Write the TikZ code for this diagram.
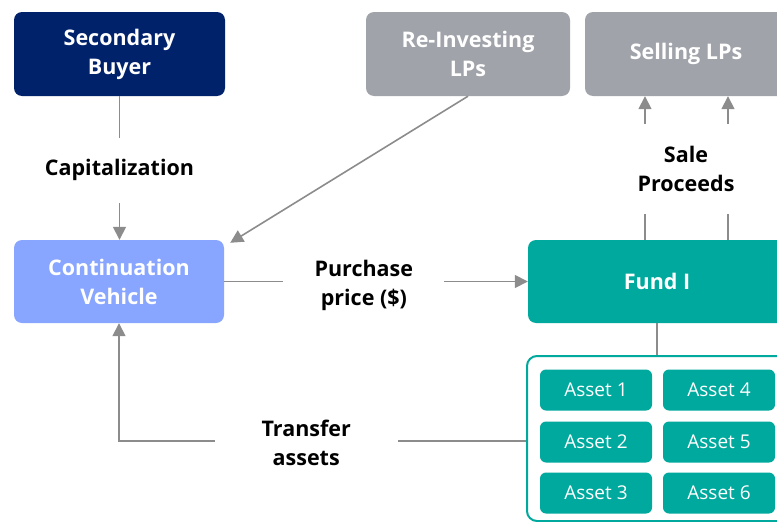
\documentclass[tikz,border=0pt]{standalone}
\usepackage{fontspec}
\setmainfont{Open Sans}
\usepackage{tikz}
\usetikzlibrary{arrows.meta}

\definecolor{navy}{RGB}{0,34,107}
\definecolor{lpgray}{RGB}{160,163,169}
\definecolor{cvblue}{RGB}{136,165,255}
\definecolor{fundteal}{RGB}{0,169,157}
\definecolor{conngray}{RGB}{140,140,140}

\begin{document}
\begin{tikzpicture}[x=1pt,y=-1pt]
	\tikzstyle{box}=[rectangle,rounded corners=8pt,text=white,align=center,
		font=\bfseries\fontsize{21.5}{29}\selectfont,minimum height=84pt]
	\tikzstyle{asset}=[rectangle,rounded corners=6pt,fill=fundteal,text=white,
		font=\fontsize{19}{22}\selectfont,minimum width=112pt,minimum height=41pt]
	\tikzstyle{lbl}=[fill=white,align=center,inner sep=0pt,
		font=\bfseries\fontsize{21.5}{29}\selectfont]
	\tikzstyle{conn}=[draw=conngray,line width=1.6pt,-{Triangle[length=13pt,width=13pt]}]
	\tikzstyle{plain}=[draw=conngray,line width=1.6pt]
	\useasboundingbox (0,0) rectangle (777,522);
	\clip (0,0) rectangle (777,522);
	% the parties
	\node[box,fill=navy,minimum width=211pt](sb) at (119.5,54) {Secondary\\Buyer};
	\node[box,fill=lpgray,minimum width=204pt](rlp) at (468,54) {Re-Investing\\LPs};
	\node[box,fill=lpgray,minimum width=202pt](slp) at (686,54) {Selling LPs};
	\node[box,fill=cvblue,minimum width=210pt,minimum height=83pt](cv) at (119,281.5) {Continuation\\Vehicle};
	\node[box,fill=fundteal,minimum width=258pt,minimum height=83pt](fund) at (657,281.5) {Fund I};
	% portfolio
	\node[rectangle,rounded corners=10pt,draw=fundteal,line width=2pt,fill=white,
		minimum width=261pt,minimum height=165pt](assets) at (657.5,438.5) {};
	\node[asset](a1) at (596,390) {Asset 1};
	\node[asset](a2) at (596,442) {Asset 2};
	\node[asset](a3) at (596,493) {Asset 3};
	\node[asset](a4) at (719,390) {Asset 4};
	\node[asset](a5) at (719,442) {Asset 5};
	\node[asset](a6) at (719,493) {Asset 6};
	% flows
	\draw[conn](sb.south) -- (sb.south |- cv.north)
		node[midway,lbl,minimum height=65pt,yshift=-2pt] {Capitalization};
	\draw[conn](rlp.south) -- ([xshift=6pt,yshift=-3pt]cv.north east);
	\draw[conn](cv.east) -- (fund.west)
		node[pos=0.46,lbl,minimum width=161pt,yshift=-4pt] {Purchase\\price (\$)};
	\draw[conn]([xshift=-12pt]fund.north) -- ([xshift=-12pt]fund.north |- slp.south);
	\draw[conn]([xshift=71pt]fund.north) -- ([xshift=71pt]fund.north |- slp.south);
	\node[lbl,minimum height=90pt,inner xsep=4pt](sale) at (686,169) {Sale\\Proceeds};
	\draw[plain](fund.south) -- (fund.south |- assets.north);
	\draw[conn]([yshift=-2.5pt]assets.west) -| (cv.south)
		node[pos=0.27,lbl,minimum width=183pt,yshift=-1.5pt] {Transfer\\assets};
\end{tikzpicture}
\end{document}
